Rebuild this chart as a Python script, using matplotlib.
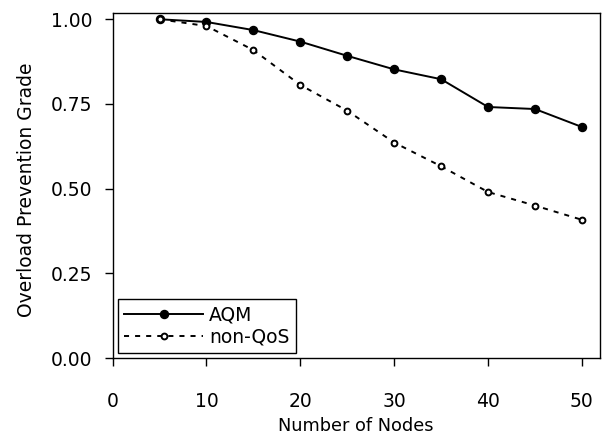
import matplotlib
matplotlib.use("Agg")
import matplotlib.pyplot as plt

nodes = [5, 10, 15, 20, 25, 30, 35, 40, 45, 50]
aqm = [1.000, 0.992, 0.968, 0.934, 0.892, 0.852, 0.823, 0.741, 0.735, 0.682]
non_qos = [1.000, 0.980, 0.909, 0.806, 0.730, 0.636, 0.566, 0.490, 0.450, 0.408]

xticks = [0, 10, 20, 30, 40, 50]
yticks = [0.00, 0.25, 0.50, 0.75, 1.00]

plt.rcParams['font.family'] = ['DejaVu Sans']
fig = plt.figure(figsize=(6.12, 4.42), dpi=100)
ax = fig.add_axes([0.184, 0.19, 0.796, 0.781])

ax.plot(nodes, aqm, '-', color='black', lw=1.4, marker='o', ms=5.8,
        mfc='black', mec='black', label='AQM')
ax.plot(nodes, non_qos, color='black', lw=1.4, dashes=(2.6, 3.1), marker='o', ms=4.2,
        mfc='white', mec='black', mew=1.4, label='non-QoS')

ax.set_xlim(0, 51.9)
ax.set_ylim(0, 1.019)
ax.set_xticks(xticks)
ax.set_yticks(yticks)
ax.set_yticklabels(['%.2f' % v for v in yticks])
ax.tick_params(labelsize=13.5, length=5.5, width=1, color='black')
ax.tick_params(axis='x', pad=19)
ax.tick_params(axis='y', pad=9)
for s in ax.spines.values():
    s.set_linewidth(1)
    s.set_color('black')

ax.set_xlabel("Number of Nodes", fontsize=12.8, labelpad=4)
ax.set_ylabel("Overload Prevention Grade", fontsize=13.5, labelpad=11)
ax.yaxis.label.set_y(0.487)

leg = ax.legend(loc='lower left', fontsize=13.5, frameon=True, fancybox=False,
                edgecolor='black', framealpha=1, borderaxespad=0.28,
                handlelength=4.2, handletextpad=0.3, labelspacing=0.15,
                borderpad=0.35)
leg.get_frame().set_linewidth(1)

fig.savefig("out.png", dpi=100)
